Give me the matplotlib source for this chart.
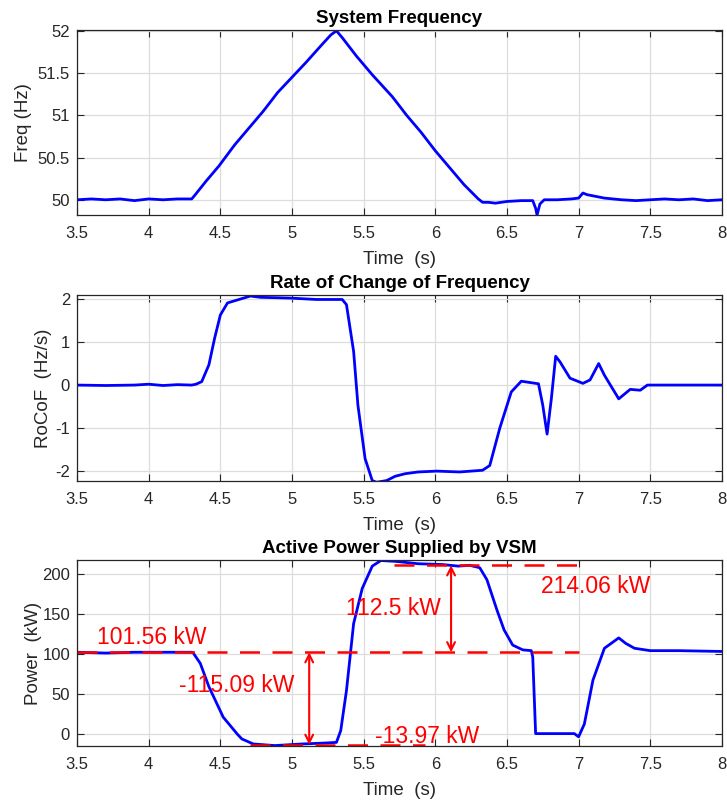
import matplotlib
matplotlib.use("Agg")
import matplotlib.pyplot as plt

plt.rcParams['font.family'] = ['Liberation Sans', 'DejaVu Sans']
plt.rcParams['axes.unicode_minus'] = False

# ---- data ----
t_freq = [3.5, 3.6, 3.7, 3.8, 3.9, 4.0, 4.1, 4.2, 4.3, 4.32, 4.4, 4.49, 4.6, 4.7, 4.8, 4.9, 5.0,
          5.1, 5.2, 5.27, 5.31, 5.35, 5.45, 5.56, 5.7, 5.8, 5.9, 6.0, 6.1, 6.2, 6.3, 6.33, 6.37,
          6.42, 6.5, 6.6, 6.68, 6.70, 6.71, 6.73, 6.76, 6.85, 6.95, 7.0, 7.03, 7.06, 7.12, 7.18,
          7.3, 7.4, 7.5, 7.6, 7.7, 7.8, 7.9, 8.0]
freq = [50.0, 50.01, 50.0, 50.01, 49.99, 50.01, 50.0, 50.01, 50.01, 50.05, 50.22, 50.40, 50.65,
        50.85, 51.05, 51.27, 51.45, 51.63, 51.82, 51.95, 52.0, 51.92, 51.70, 51.48, 51.22, 51.0,
        50.80, 50.58, 50.38, 50.18, 50.01, 49.97, 49.97, 49.96, 49.98, 49.99, 49.99, 49.90,
        49.82, 49.95, 50.0, 50.0, 50.01, 50.02, 50.08, 50.06, 50.04, 50.02, 50.0, 49.99, 50.0,
        50.01, 50.0, 50.01, 49.99, 50.0]

t_rocof = [3.5, 3.7, 3.9, 4.0, 4.1, 4.2, 4.3, 4.33, 4.37, 4.42, 4.46, 4.5, 4.55, 4.62, 4.71,
           4.78, 4.9, 5.0, 5.17, 5.35, 5.38, 5.43, 5.46, 5.51, 5.56, 5.59, 5.66, 5.72, 5.79,
           5.88, 6.01, 6.17, 6.33, 6.38, 6.45, 6.53, 6.60, 6.72, 6.75, 6.78, 6.81, 6.84, 6.87,
           6.94, 7.03, 7.08, 7.14, 7.18, 7.28, 7.36, 7.43, 7.48, 7.6, 7.8, 8.0]
rocof = [0.0, -0.01, 0.0, 0.02, -0.01, 0.01, 0.0, 0.02, 0.08, 0.47, 1.09, 1.63, 1.91, 1.98,
         2.07, 2.04, 2.03, 2.02, 1.99, 1.99, 1.87, 0.78, -0.47, -1.71, -2.22, -2.26, -2.22,
         -2.12, -2.06, -2.02, -2.0, -2.02, -1.98, -1.87, -1.0, -0.16, 0.09, 0.03, -0.47, -1.14,
         -0.31, 0.67, 0.54, 0.16, 0.04, 0.12, 0.50, 0.23, -0.32, -0.1, -0.12, 0.0, 0.0, 0.0, 0.0]

t_pow = [3.5, 3.7, 3.9, 4.1, 4.3, 4.31, 4.36, 4.42, 4.52, 4.62, 4.65, 4.73, 4.88, 5.07, 5.23,
         5.31, 5.34, 5.38, 5.43, 5.49, 5.56, 5.62, 5.72, 5.88, 6.05, 6.16, 6.24, 6.31, 6.36,
         6.43, 6.48, 6.54, 6.61, 6.67, 6.68, 6.70, 6.83, 6.97, 7.0, 7.04, 7.1, 7.18, 7.28,
         7.33, 7.39, 7.5, 7.7, 8.0]
power = [102, 101, 102, 102, 102, 101.3, 88, 58.8, 20.6, -1, -6.7, -13, -15, -13, -11.8, -11,
         3.8, 54, 138, 182, 210, 217, 216, 213, 212, 210, 211, 208, 193, 155, 130, 111, 105,
         104, 96, 0, 0, 0, -4, 12, 67, 107, 120, 113, 107, 104, 104, 103]

levels = [102.0, 211.0, -14.0]
level_labels = ['101.56 kW', '214.06 kW', '-13.97 kW']
delta_labels = ['-115.09 kW', '112.5 kW']

BLUE = '#0000ff'
RED = '#ff0000'
fig = plt.figure(figsize=(7.27, 8.01), dpi=100)

L, W = 0.106, 0.887
boxes = [(L, 0.7316, W, 0.231), (L, 0.3995, W, 0.232), (L, 0.0687, W, 0.232)]
axs = [fig.add_axes(b) for b in boxes]

def style(ax, title, ylabel, lpad):
    ax.set_xlim(3.5, 8)
    ax.set_xticks([3.5, 4, 4.5, 5, 5.5, 6, 6.5, 7, 7.5, 8])
    ax.set_xticklabels(['3.5', '4', '4.5', '5', '5.5', '6', '6.5', '7', '7.5', '8'])
    ax.grid(True, color='#dddddd', linewidth=0.9)
    ax.set_axisbelow(True)
    ax.tick_params(direction='in', top=True, right=True, labelsize=12, colors='#262626',
                   length=5, width=0.8)
    ax.tick_params(axis='x', pad=8)
    ax.tick_params(axis='y', pad=5)
    for s in ax.spines.values():
        s.set_color('#262626')
        s.set_linewidth(0.9)
    ax.set_title(title, fontsize=13.5, fontweight='bold', pad=5)
    ax.set_xlabel('Time  (s)', fontsize=13.5, color='#262626', labelpad=7)
    ax.set_ylabel(ylabel, fontsize=13.5, color='#262626', labelpad=lpad)

ax = axs[0]
ax.plot(t_freq, freq, color=BLUE, lw=2.0)
ax.set_ylim(49.82, 52.01)
ax.set_yticks([50, 50.5, 51, 51.5, 52])
ax.set_yticklabels(['50', '50.5', '51', '51.5', '52'])
style(ax, 'System Frequency', 'Freq (Hz)', 4)

ax = axs[1]
ax.plot(t_rocof, rocof, color=BLUE, lw=2.0)
ax.set_ylim(-2.23, 2.09)
ax.set_yticks([-2, -1, 0, 1, 2])
style(ax, 'Rate of Change of Frequency', 'RoCoF  (Hz/s)', 2)

ax = axs[2]
ax.plot(t_pow, power, color=BLUE, lw=2.0)
ax.set_ylim(-15.5, 217.5)
ax.set_yticks([0, 50, 100, 150, 200])
style(ax, 'Active Power Supplied by VSM', 'Power  (kW)', 0)

dash = dict(color=RED, lw=1.8, linestyle=(0, (8, 5)))
ax.plot([3.5, 7.0], [levels[0], levels[0]], **dash)
ax.plot([5.71, 7.02], [levels[1], levels[1]], **dash)
ax.plot([4.71, 5.93], [levels[2], levels[2]], **dash)
arr = dict(arrowstyle='<->', color=RED, lw=1.5, mutation_scale=14, shrinkA=0, shrinkB=0)
ax.annotate('', xy=(5.12, levels[2]), xytext=(5.12, levels[0]), arrowprops=arr)
ax.annotate('', xy=(6.11, levels[0]), xytext=(6.11, levels[1]), arrowprops=arr)
tk = dict(color=RED, fontsize=16.5, va='center', ha='left')
ax.text(3.64, 121, level_labels[0], **tk)
ax.text(6.74, 184.5, level_labels[1], **tk)
ax.text(5.58, -3.4, level_labels[2], **tk)
ax.text(4.21, 60, delta_labels[0], **tk)
ax.text(5.38, 157, delta_labels[1], **tk)

fig.savefig('out.png', dpi=100)
